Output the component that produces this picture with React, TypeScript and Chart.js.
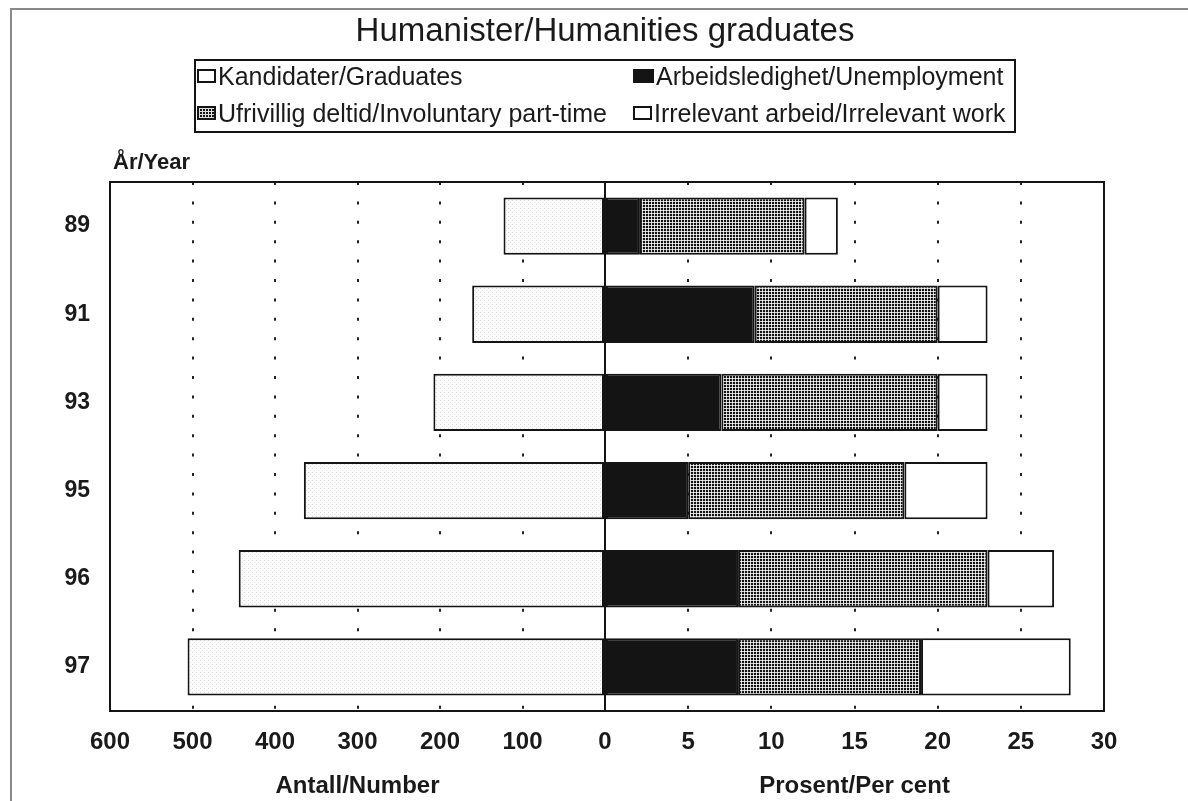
import React, { useEffect, useRef } from 'react';
import { Chart, registerables } from 'chart.js';

Chart.register(...registerables);

// ---- data ----
const years = ['89', '91', '93', '95', '96', '97'];
const graduates = [123, 161, 208, 365, 444, 506];
const unemployment = [2.1, 9, 7, 5, 8, 8];
const involuntaryPartTime = [9.9, 11, 13, 13, 15, 11];
const irrelevantWork = [2, 3, 3, 5, 4, 9];
const numberTicks = [600, 500, 400, 300, 200, 100, 0];
const percentTicks = [0, 5, 10, 15, 20, 25, 30];
const seriesLabels = [
  'Kandidater/Graduates',
  'Arbeidsledighet/Unemployment',
  'Ufrivillig deltid/Involuntary part-time',
  'Irrelevant arbeid/Irrelevant work',
];
const titleText = 'Humanister/Humanities graduates';
const yearTitle = 'År/Year';
const leftAxisTitle = 'Antall/Number';
const rightAxisTitle = 'Prosent/Per cent';

const FONT = "'Liberation Sans', Arial, Helvetica, sans-serif";
const INK = '#141414';

function makeStipple(): CanvasPattern | string {
  const c = document.createElement('canvas');
  c.width = 4;
  c.height = 4;
  const g = c.getContext('2d');
  if (!g) return '#f3f3f3';
  g.fillStyle = '#fbfbfb';
  g.fillRect(0, 0, 4, 4);
  g.fillStyle = '#d8d8d8';
  g.fillRect(0, 0, 1, 1);
  g.fillStyle = '#e8e8e8';
  g.fillRect(2, 2, 1, 1);
  return g.createPattern(c, 'repeat') || '#f3f3f3';
}

function makeGridPattern(): CanvasPattern | string {
  const c = document.createElement('canvas');
  c.width = 3;
  c.height = 3;
  const g = c.getContext('2d');
  if (!g) return '#555';
  g.fillStyle = INK;
  g.fillRect(0, 0, 3, 3);
  g.fillStyle = '#cfcfcf';
  g.fillRect(0, 0, 3, 1);
  g.fillRect(0, 0, 1, 3);
  g.fillStyle = '#ffffff';
  g.fillRect(0, 0, 1, 1);
  return g.createPattern(c, 'repeat') || '#555';
}

const framePlugin = {
  id: 'plotFrame',
  afterDatasetsDraw(chart: any) {
    const { ctx, chartArea: a } = chart;
    const x0 = chart.scales.xR.getPixelForValue(0);
    ctx.save();
    ctx.strokeStyle = INK;
    ctx.lineWidth = 2;
    ctx.strokeRect(a.left, a.top, a.right - a.left, a.bottom - a.top);
    ctx.beginPath();
    ctx.moveTo(x0, a.top);
    ctx.lineTo(x0, a.bottom);
    ctx.stroke();
    ctx.restore();
  },
};

export default function App() {
  const ref = useRef<HTMLCanvasElement>(null);

  useEffect(() => {
    const canvas = ref.current;
    if (!canvas) return;
    const stipple = makeStipple();
    const gridPat = makeGridPattern();

    const tickFont = { family: FONT, size: 24, weight: 'bold' as const };
    const dash = [3, 16.4];
    const gridOpts = {
      color: '#222',
      lineWidth: 2,
      drawTicks: false,
      borderDash: dash,
    };

    const barCommon = {
      borderColor: INK,
      borderWidth: 2,
      borderSkipped: false as const,
      stack: 's',
      yAxisID: 'y',
    };

    const chart = new Chart(canvas, {
      type: 'bar',
      data: {
        labels: years,
        datasets: [
          { ...barCommon, label: seriesLabels[0], data: graduates, xAxisID: 'xL', backgroundColor: stipple as any },
          { ...barCommon, label: seriesLabels[1], data: unemployment, xAxisID: 'xR', backgroundColor: INK },
          { ...barCommon, label: seriesLabels[2], data: involuntaryPartTime, xAxisID: 'xR', backgroundColor: gridPat as any },
          { ...barCommon, label: seriesLabels[3], data: irrelevantWork, xAxisID: 'xR', backgroundColor: '#ffffff' },
        ],
      },
      options: {
        responsive: false,
        animation: false,
        indexAxis: 'y',
        layout: { padding: { top: 182, left: 0, right: 84, bottom: 0 } },
        datasets: { bar: { categoryPercentage: 1, barPercentage: 0.65 } },
        plugins: {
          legend: { display: false },
          title: { display: false },
          tooltip: { enabled: false },
        },
        scales: {
          y: {
            type: 'category',
            stacked: true,
            grid: { display: false, drawTicks: false },
            border: { display: false },
            ticks: { font: { family: FONT, size: 23, weight: 'bold' }, color: '#1a1a1a', padding: 20 },
            afterFit: (s: any) => {
              s.width = 110;
            },
          },
          xL: {
            type: 'linear',
            position: 'bottom',
            stack: 'x',
            stackWeight: 495,
            reverse: true,
            min: 0,
            max: 600,
            afterBuildTicks: (s: any) => {
              s.ticks = numberTicks.map((v) => ({ value: v }));
            },
            grid: gridOpts as any,
            border: { display: false, dash } as any,
            ticks: { font: tickFont, color: '#1a1a1a', padding: 17, maxRotation: 0, autoSkip: false },
            title: {
              display: true,
              text: leftAxisTitle,
              font: { family: FONT, size: 24, weight: 'bold' },
              color: '#1a1a1a',
              padding: { top: 0, bottom: 0 },
            },
            afterFit: (s: any) => {
              s.height = 90;
            },
          } as any,
          xR: {
            type: 'linear',
            position: 'bottom',
            stack: 'x',
            stackWeight: 499,
            stacked: true,
            min: 0,
            max: 30,
            afterBuildTicks: (s: any) => {
              s.ticks = percentTicks.map((v) => ({ value: v }));
            },
            grid: gridOpts as any,
            border: { display: false, dash } as any,
            ticks: {
              font: tickFont,
              color: '#1a1a1a',
              padding: 17,
              maxRotation: 0,
              autoSkip: false,
              callback: (v: any) => (Number(v) === 0 ? '' : String(v)),
            },
            title: {
              display: true,
              text: rightAxisTitle,
              font: { family: FONT, size: 24, weight: 'bold' },
              color: '#1a1a1a',
              padding: { top: 0, bottom: 0 },
            },
            afterFit: (s: any) => {
              s.height = 90;
            },
          } as any,
        },
      },
      plugins: [framePlugin],
    });

    return () => chart.destroy();
  }, []);

  const swatchBase: React.CSSProperties = {
    width: 19,
    height: 14,
    boxSizing: 'border-box',
    border: `2px solid ${INK}`,
    marginRight: 2,
    flex: '0 0 auto',
  };
  const swatches: React.CSSProperties[] = [
    { ...swatchBase, background: '#fff' },
    { ...swatchBase, width: 21, background: INK },
    {
      ...swatchBase,
      backgroundColor: INK,
      backgroundImage:
        'linear-gradient(to right, #ddd 1px, transparent 1px), linear-gradient(to bottom, #ddd 1px, transparent 1px)',
      backgroundSize: '3px 3px',
    },
    { ...swatchBase, background: '#fff' },
  ];
  const legendPos = [
    { left: 197, top: 61 },
    { left: 633, top: 61 },
    { left: 197, top: 98 },
    { left: 633, top: 98 },
  ];

  return (
    <div
      style={{
        position: 'fixed',
        left: 0,
        top: 0,
        width: 1188,
        height: 801,
        overflow: 'hidden',
        background: '#fff',
        fontFamily: FONT,
        color: '#1a1a1a',
      }}
    >
      <div
        style={{
          position: 'absolute',
          left: 10,
          top: 8,
          width: 1300,
          height: 1000,
          borderLeft: '2px solid #8a8a8a',
          borderTop: '2px solid #8a8a8a',
        }}
      />
      <canvas ref={ref} width={1188} height={801} style={{ position: 'absolute', left: 0, top: 0 }} />
      <div
        style={{
          position: 'absolute',
          left: 105,
          width: 1000,
          top: 11,
          textAlign: 'center',
          fontSize: 33,
          lineHeight: '38px',
          whiteSpace: 'nowrap',
        }}
      >
        {titleText}
      </div>
      <div
        style={{
          position: 'absolute',
          left: 194,
          top: 59,
          width: 822,
          height: 74,
          boxSizing: 'border-box',
          border: `2px solid ${INK}`,
        }}
      />
      {seriesLabels.map((lab, i) => (
        <div
          key={lab}
          style={{
            position: 'absolute',
            left: legendPos[i].left,
            top: legendPos[i].top,
            height: 30,
            display: 'flex',
            alignItems: 'center',
            fontSize: 25,
            whiteSpace: 'nowrap',
          }}
        >
          <span style={swatches[i]} />
          <span>{lab}</span>
        </div>
      ))}
      <div
        style={{
          position: 'absolute',
          left: 113,
          top: 149,
          fontSize: 22,
          fontWeight: 'bold',
          lineHeight: '26px',
          whiteSpace: 'nowrap',
        }}
      >
        {yearTitle}
      </div>
    </div>
  );
}
